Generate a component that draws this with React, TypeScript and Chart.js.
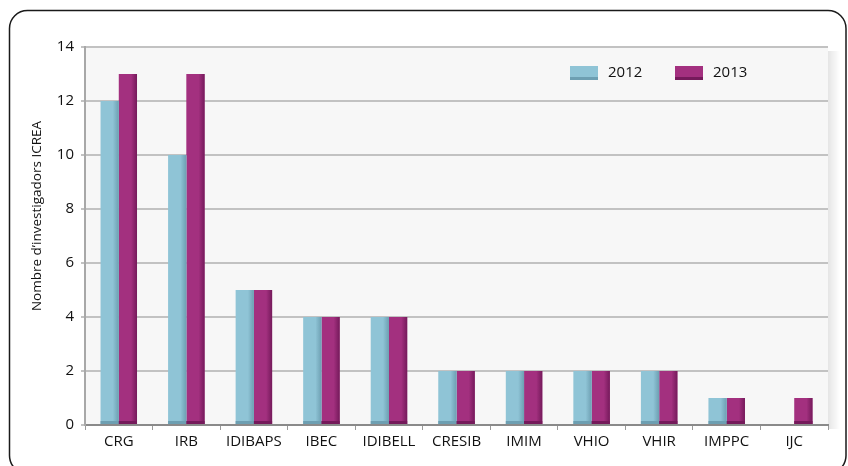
import React, { useEffect, useRef } from "react";
import { Chart, registerables } from "chart.js";
Chart.register(...registerables);

const categories = ["CRG", "IRB", "IDIBAPS", "IBEC", "IDIBELL", "CRESIB", "IMIM", "VHIO", "VHIR", "IMPPC", "IJC"];
const values2012 = [12, 10, 5, 4, 4, 2, 2, 2, 2, 1, 0];
const values2013 = [13, 13, 5, 4, 4, 2, 2, 2, 2, 1, 1];
const seriesLabels = ["2012", "2013"];
const yAxisTitle = "Nombre d\u2019investigadors ICREA";

const FONT = "'Open Sans', 'Noto Sans', sans-serif";
const COLORS = ["#8fc4d6", "#a3307f"];
const DARK = ["#6d9fb2", "#751a5b"];

const framePlugin = {
  id: "frame",
  beforeDraw(chart: any) {
    const { ctx, chartArea: a } = chart;
    ctx.save();
    const g = ctx.createLinearGradient(a.right, 0, a.right + 12, 0);
    g.addColorStop(0, "rgba(0,0,0,0.10)");
    g.addColorStop(1, "rgba(0,0,0,0)");
    ctx.fillStyle = g;
    ctx.fillRect(a.right, a.top + 4, 12, a.bottom - a.top);
    ctx.fillStyle = "#f7f7f7";
    ctx.fillRect(a.left, a.top, a.right - a.left, a.bottom - a.top);
    ctx.restore();
  },
  afterDatasetsDraw(chart: any) {
    const { ctx } = chart;
    ctx.save();
    chart.data.datasets.forEach((ds: any, di: number) => {
      const meta = chart.getDatasetMeta(di);
      meta.data.forEach((bar: any) => {
        const h = bar.base - bar.y;
        if (h <= 0.5) return;
        const right = bar.x + bar.width / 2;
        const g = ctx.createLinearGradient(right - 6, 0, right, 0);
        g.addColorStop(0, COLORS[di]);
        g.addColorStop(1, DARK[di]);
        ctx.fillStyle = g;
        ctx.fillRect(right - 6, bar.y, 6, h);
        ctx.fillStyle = DARK[di];
        ctx.fillRect(bar.x - bar.width / 2, bar.base - 3, bar.width, 3);
      });
    });
    ctx.restore();
  },
  afterDraw(chart: any) {
    const { ctx, chartArea: a } = chart;
    ctx.save();
    // legend
    ctx.font = "15px " + FONT;
    ctx.textBaseline = "middle";
    ctx.textAlign = "left";
    const lx = [a.right - 258, a.right - 153];
    seriesLabels.forEach((lab, i) => {
      const x = lx[i];
      const y = a.top + 19;
      ctx.fillStyle = COLORS[i];
      ctx.fillRect(x, y, 28, 14);
      ctx.fillStyle = DARK[i];
      ctx.fillRect(x, y + 11, 28, 3);
      ctx.fillStyle = "#111";
      ctx.fillText(lab, x + 38, y + 7);
    });
    // y axis title
    ctx.save();
    ctx.translate(37, a.top + 169);
    ctx.rotate(-Math.PI / 2);
    ctx.textAlign = "center";
    ctx.font = "13.5px " + FONT;
    ctx.fillText(yAxisTitle, 0, 0);
    ctx.restore();
    // rounded frame
    ctx.strokeStyle = "#1a1a1a";
    ctx.lineWidth = 1.5;
    ctx.beginPath();
    (ctx as any).roundRect(9.5, 10.5, 836.5, 463, 18);
    ctx.stroke();
    ctx.restore();
  },
};

export default function App() {
  const ref = useRef<HTMLCanvasElement>(null);
  useEffect(() => {
    const chart = new Chart(ref.current!, {
      type: "bar",
      data: {
        labels: categories,
        datasets: [
          { label: seriesLabels[0], data: values2012, backgroundColor: COLORS[0] },
          { label: seriesLabels[1], data: values2013, backgroundColor: COLORS[1] },
        ],
      },
      options: {
        animation: false,
        responsive: false,
        devicePixelRatio: 1,
        layout: { padding: { top: 47, right: 20, left: 0, bottom: 0 } },
        datasets: { bar: { categoryPercentage: 0.54, barPercentage: 1 } },
        plugins: { legend: { display: false }, tooltip: { enabled: false } },
        scales: {
          x: {
            afterFit: (s: any) => { s.height = 41; },
            grid: { offset: true, drawOnChartArea: false, drawTicks: true, tickLength: 5, color: "#9a9a9a", lineWidth: 1 },
            border: { color: "#8a8a8a", width: 2 },
            ticks: { color: "#111", padding: 3, font: { family: FONT, size: 15 } },
          },
          y: {
            min: 0,
            max: 14,
            afterFit: (s: any) => { s.width = 85; },
            ticks: { stepSize: 2, color: "#111", padding: 7, font: { family: FONT, size: 15 } },
            grid: { color: "#c2c2c2", lineWidth: 2, tickLength: 4 },
            border: { color: "#a8a8a8", width: 2 },
          },
        },
      },
      plugins: [framePlugin],
    });
    return () => chart.destroy();
  }, []);
  return (
    <div style={{ position: "fixed", left: 0, top: 0, width: 848, height: 466, background: "#fff" }}>
      <canvas ref={ref} width={848} height={466} style={{ width: 848, height: 466 }} />
    </div>
  );
}
